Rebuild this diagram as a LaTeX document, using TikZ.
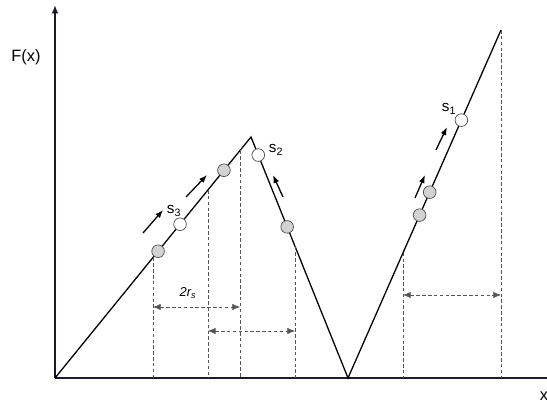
\documentclass[tikz,border=0pt]{standalone}
\usepackage{fontspec}
\setmainfont{Liberation Sans}
\usetikzlibrary{arrows.meta,positioning,calc}
\definecolor{ballgray}{HTML}{D2D2D2}
\definecolor{axisdark}{HTML}{1E1A2E}
\definecolor{guidegray}{HTML}{555555}

\begin{document}
\begin{tikzpicture}[
      x=0.03cm,y=-0.03cm,
      axis/.style={line width=1.5pt,axisdark},
      curve/.style={line width=1.1pt,black},
      guide/.style={densely dashed,line width=0.55pt,guidegray},
      span/.style={guide,{Latex[length=2.3mm,width=1.9mm]}-{Latex[length=2.3mm,width=1.9mm]}},
      move/.style={-{Latex[length=2.4mm,width=1.8mm]},line width=1.1pt,black},
      ball/.style={circle,draw=gray!60!black,line width=0.6pt,minimum size=0.38cm,inner sep=0pt},
      busy/.style={ball,fill=ballgray},
      free/.style={ball,fill=white},
      lbl/.style={font=\fontsize{13}{15}\selectfont,inner sep=0pt}
    ]
    \useasboundingbox (0,0) rectangle (547,405);
    % axes and the landscape
    \coordinate (o) at (55,378);
    \coordinate (ytop) at (55,5);
    \coordinate (xend) at (547,378);
    \coordinate (peak) at (251,137);
    \coordinate (valley) at (348,378);
    \coordinate (tip) at (501,30);
    \draw[axis,-{Latex[length=2.5mm,width=2mm]}] (o) -- (ytop);
    \draw[axis] (o) -- (xend);
    \node[lbl,font=\fontsize{14}{16}\selectfont] (fx) at (26,57) {F(x)};
    \node[lbl,font=\fontsize{14}{16}\selectfont] (xlbl) at (544,396) {x};
    \draw[curve] (o) -- (peak) -- (valley) -- (tip);

    % guide lines down to the axis
    \coordinate (g1) at ($(o)!0.50!(peak)$);
    \coordinate (g2) at ($(o)!0.78!(peak)$);
    \coordinate (g3) at ($(o)!0.944!(peak)$);
    \coordinate (g4) at ($(peak)!0.454!(valley)$);
    \coordinate (g5) at ($(valley)!0.36!(tip)$);
    \foreach \g in {g1,g2,g3,g4,g5,tip}
      \draw[guide] (\g) -- (\g |- o);

    % spans
    \coordinate (h1) at (0,307);
    \coordinate (h2) at (0,331);
    \coordinate (h3) at (0,295);
    \draw[span] (g1 |- h1) -- (g3 |- h1);
    \draw[span] (g2 |- h2) -- (g4 |- h2);
    \draw[span] (g5 |- h3) -- (tip |- h3);
    \node[lbl,font=\fontsize{11}{13}\selectfont] (rs) at (188,293) {\textit{2r\textsubscript{s}}};

    % particles
    \node[busy] (b1) at ($(o)!0.526!(peak)$) {};
    \node[free] (b2) at ($(o)!0.638!(peak)$) {};
    \node[busy] (b3) at ($(o)!0.862!(peak)$) {};
    \node[free] (b4) at ($(peak)!0.075!(valley)$) {};
    \node[busy] (b5) at ($(peak)!0.373!(valley)$) {};
    \node[busy] (b6) at ($(valley)!0.468!(tip)$) {};
    \node[busy] (b7) at ($(valley)!0.534!(tip)$) {};
    \node[free] (b8) at ($(valley)!0.741!(tip)$) {};
    \node[lbl] (s3) at (174,211) {s\textsubscript{3}};
    \node[lbl] (s2) at (276,150) {s\textsubscript{2}};
    \node[lbl] (s1) at (449,109) {s\textsubscript{1}};

    % directions of motion
    \coordinate (m1a) at (143,233); \coordinate (m1b) at (163,210);
    \coordinate (m2a) at (186,197); \coordinate (m2b) at (207,175);
    \coordinate (m3a) at (283,197); \coordinate (m3b) at (273,175);
    \coordinate (m4a) at (436,150); \coordinate (m4b) at (447,127);
    \coordinate (m5a) at (415,198); \coordinate (m5b) at (425,175);
    \foreach \m in {m1,m2,m3,m4,m5}
      \draw[move] (\m a) -- (\m b);
  \end{tikzpicture}
\end{document}
